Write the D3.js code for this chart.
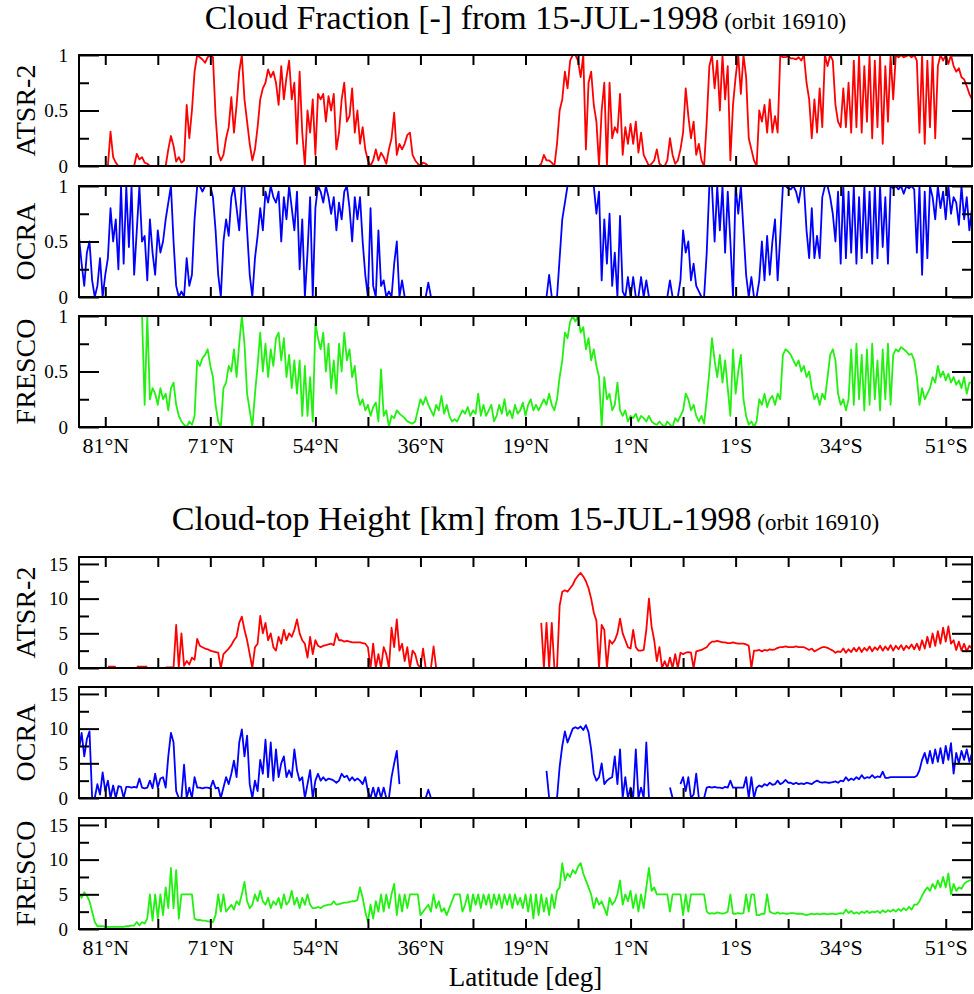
<!DOCTYPE html>
<html>
<head>
<meta charset="utf-8">
<script src="https://cdn.jsdelivr.net/npm/d3@7"></script>
<style>
  body { margin: 0; background: #fff; }
  text { font-family: "Liberation Serif", "Times New Roman", serif; }
</style>
</head>
<body>
<svg id="chart" width="974" height="994"></svg>
<script>
'use strict';

var _ = null; // no retrieval

// along-track sample index 0..340, latitude labels on every other tick
var latTicks = [10, 50, 90, 130, 170, 210, 250, 290, 330];
var latLabels = ['81°N', '71°N', '54°N', '36°N', '19°N', '1°N', '1°S', '34°S', '51°S'];

// cloud fraction, percent
var cfAtsr = [
  0,0,0,0,0,0,0,0,0,0,
  0,0,31,8,3,0,0,0,0,0,
  0,0,11,6,8,3,2,0,0,0,
  0,0,0,0,15,27,18,4,8,3,
  5,55,25,50,85,100,98,96,93,98,
  100,98,45,12,5,10,25,35,62,30,
  55,85,100,60,40,20,5,15,35,60,
  70,75,87,80,85,75,55,90,60,80,
  95,60,75,20,85,30,0,50,30,60,
  10,65,60,65,40,63,50,65,15,30,
  60,75,40,45,70,30,50,20,35,15,
  5,0,5,15,5,12,8,2,15,25,
  48,10,20,15,20,28,30,10,5,2,
  0,3,2,0,0,0,0,0,0,0,
  0,0,0,0,0,0,0,0,0,0,
  0,0,0,0,0,0,0,0,0,0,
  0,0,0,0,0,0,0,0,0,0,
  0,0,0,0,0,0,2,10,5,5,
  3,0,20,50,60,85,70,95,100,100,
  95,80,100,15,75,85,55,40,0,50,
  75,0,75,25,35,30,65,10,35,20,
  38,20,40,12,30,10,5,0,2,5,
  15,2,0,0,5,25,10,2,5,15,
  30,70,45,25,40,10,20,5,0,40,
  90,100,70,95,50,100,60,90,5,55,
  80,100,65,100,80,25,15,5,0,50,
  40,55,30,60,30,45,30,100,98,98,
  99,97,97,96,98,95,100,75,60,25,
  60,30,70,35,100,90,100,95,55,40,
  35,70,35,75,30,95,35,100,30,90,
  40,100,25,95,35,100,20,90,40,100,
  60,100,98,100,98,99,100,98,100,95,
  30,100,20,95,35,100,25,90,100,95,
  100,92,100,90,85,88,80,78,72,65,
  60
];

var cfOcra = [
  54,30,10,40,50,15,0,10,35,0,
  20,35,80,50,70,25,100,30,100,45,
  100,20,60,100,50,55,15,70,40,20,
  60,40,50,70,85,100,50,10,0,5,
  0,35,10,20,70,100,100,95,100,100,
  100,90,60,20,0,50,70,55,90,100,
  80,60,100,100,60,20,0,35,55,80,
  60,95,85,100,90,85,95,50,90,70,
  100,80,60,95,25,70,0,40,90,0,
  80,100,95,85,100,90,75,90,60,85,
  70,95,100,80,50,90,70,90,50,20,
  0,80,10,0,60,10,15,0,5,0,
  30,50,0,15,0,0,0,0,0,0,
  0,0,0,13,0,0,0,0,0,0,
  0,0,0,0,0,0,0,0,0,0,
  0,0,0,0,0,0,0,0,0,0,
  0,0,0,0,0,0,0,0,0,0,
  0,0,0,0,0,0,0,0,0,20,
  0,0,0,35,70,85,100,100,100,100,
  100,100,100,100,100,100,100,75,95,15,
  70,30,75,10,40,0,73,5,0,18,
  0,18,0,0,18,0,15,0,0,0,
  0,0,0,0,0,15,0,0,0,15,
  60,40,50,15,30,10,5,0,0,40,
  100,100,50,100,60,100,40,95,50,0,
  100,75,100,60,20,0,18,0,0,15,
  50,15,55,20,50,70,15,55,100,100,
  98,97,100,95,85,100,100,60,35,80,
  35,55,35,90,100,100,90,75,50,95,
  30,100,35,95,40,100,30,90,35,100,
  40,95,30,100,35,100,45,90,30,100,
  98,100,97,100,93,100,98,100,97,40,
  100,20,95,35,100,90,70,100,80,95,
  70,100,75,90,85,65,100,70,90,60,
  80
];

var cfFresco = [
  _,_,_,_,_,_,_,_,_,_,
  _,_,_,_,_,_,_,_,_,_,
  _,_,_,_,100,20,100,25,35,30,
  20,35,25,30,15,35,40,20,10,5,
  2,0,5,2,10,60,55,62,65,70,
  55,45,20,5,0,35,40,55,50,70,
  45,75,100,75,30,15,0,30,55,85,
  50,75,45,70,55,80,85,60,80,45,
  65,35,60,30,60,10,55,10,45,5,
  93,80,70,85,50,75,35,60,30,75,
  50,85,60,70,45,55,30,20,25,15,
  20,10,18,22,5,52,10,15,0,10,
  8,15,12,10,8,5,4,3,5,15,
  25,20,27,20,15,10,20,15,28,12,
  20,10,5,7,5,10,15,12,18,10,
  15,12,30,10,20,10,15,20,5,10,
  20,12,25,10,15,8,20,12,15,22,
  10,20,25,15,20,15,20,25,20,30,
  20,15,25,45,60,85,80,95,100,95,
  100,85,90,70,80,60,70,55,45,0,
  45,25,30,15,20,40,15,10,15,5,
  10,8,12,5,10,8,5,10,5,3,
  2,5,2,0,5,2,0,8,5,10,
  15,30,25,15,20,10,5,10,3,25,
  50,80,60,45,65,40,60,35,10,70,
  30,50,65,25,10,2,5,0,5,25,
  20,30,18,25,28,20,30,25,65,70,
  68,65,60,55,60,50,55,45,50,35,
  25,30,20,30,25,45,65,70,60,30,
  20,25,15,25,70,20,75,25,65,15,
  70,20,75,25,60,15,70,25,75,20,
  65,70,68,72,70,68,65,66,60,45,
  20,35,25,30,35,45,40,55,45,50,
  42,48,40,45,38,42,35,45,30,40,
  40
];

// cloud-top height, km
var cthAtsr = [
  _,_,_,_,_,_,_,_,_,_,
  _,0.2,0.2,0.2,0.2,_,_,_,_,_,
  _,_,0.2,0.2,0.2,0.2,0.2,_,_,_,
  _,_,_,0.1,0.1,0.1,0.1,6.2,0,5.0,
  0.3,1.0,0.5,1.5,1.2,4.2,3.2,3.0,2.8,2.7,
  2.5,2.4,2.3,2.2,0,2.0,2.4,2.8,3.3,4.0,
  4.5,6.5,7.4,5.5,4.0,2.0,0,3.0,3.5,7.5,
  5.0,6.5,4.0,5.0,3.0,2.5,4.5,3.5,5.5,4.0,
  5.0,4.5,5.5,7.0,5.0,4.0,3.5,1.5,4.5,2.0,
  4.0,3.2,3.0,3.2,3.3,3.4,3.5,3.3,5.0,4.0,
  4.0,3.8,3.9,3.8,3.7,3.7,3.7,3.7,3.6,3.5,
  3.0,0,3.5,0,2.0,0,3.0,2.0,0,5.8,
  3.0,7.0,2.5,3.5,1.0,3.0,0,2.5,2.0,0.5,
  0,2.8,0,_,0,3.1,0,_,_,_,
  _,_,_,_,_,_,_,_,_,_,
  _,_,_,_,_,_,_,_,_,_,
  _,_,_,_,_,_,_,_,_,_,
  _,_,_,_,_,_,6.5,0,6.5,0,
  6.5,0,0,9.0,11.0,11.2,11.0,11.5,12.0,12.8,
  13.3,13.7,13.2,12.5,11.5,10.0,8.0,6.8,0,6.2,
  5.5,0,4.0,3.5,4.0,5.0,7.1,5.0,4.0,3.0,
  2.8,5.5,3.0,2.5,2.5,2.6,5.5,10.0,6.0,4.0,
  1.0,3.0,0,1.0,0,1.5,0,2.0,0,2.2,
  2.0,2.2,2.3,2.2,0,2.4,2.5,2.6,2.8,3.0,
  3.5,3.8,3.8,3.9,3.8,3.7,3.7,3.6,3.6,3.7,
  3.6,3.5,3.5,3.5,3.4,3.2,0,2.5,2.5,2.6,
  2.4,2.6,2.5,2.7,2.6,2.7,2.9,3.0,3.0,3.1,
  3.0,3.0,3.0,3.1,3.0,3.0,3.0,2.8,2.6,2.8,
  2.4,2.6,2.8,3.0,3.0,2.9,2.7,2.5,2.2,2.4,
  2.3,2.8,2.2,2.7,2.3,2.9,2.4,3.0,2.3,2.9,
  2.5,3.1,2.4,3.0,2.6,3.2,2.5,3.1,2.6,3.3,
  2.5,3.2,2.7,3.3,2.6,3.2,2.8,3.4,2.7,3.5,
  2.6,4.0,2.8,4.5,3.0,5.0,3.2,5.3,3.5,5.8,
  3.8,6.0,3.5,4.0,2.6,3.8,2.5,3.5,2.4,3.2,
  2.8
];

var cthOcra = [
  7.0,9.4,6.0,8.5,9.6,0,0,2.0,0.5,3.7,
  1.0,2.5,0,1.8,0,1.7,1.6,0,1.6,1.6,
  1.5,1.6,1.5,2.8,1.5,1.4,1.5,2.5,1.4,3.5,
  1.5,2.8,3.0,1.5,6.0,9.4,8.0,1.0,0,0,
  4.8,0,1.5,0,3.0,1.5,1.5,1.4,1.5,1.5,
  1.4,2.5,1.4,1.5,0,1.5,3.0,2.0,3.5,5.4,
  3.0,8.0,9.9,6.0,9.0,2.0,0,2.5,1.0,5.5,
  3.5,8.4,3.0,8.0,2.5,7.0,3.0,5.0,6.0,3.0,
  4.0,3.0,7.0,4.0,2.5,3.0,0,2.0,4.0,0,
  2.5,3.5,2.5,3.0,2.5,2.8,2.7,2.5,2.2,2.5,
  3.5,3.0,3.2,2.5,3.0,2.5,2.8,2.5,2.0,3.0,
  1.0,0,1.5,0,1.5,0,1.5,0,0,3.0,
  5.0,6.8,2.0,_,_,_,_,_,_,_,
  _,_,0,1.2,0,_,_,_,_,_,
  _,_,_,_,_,_,_,_,_,_,
  _,_,_,_,_,_,_,_,_,_,
  _,_,_,_,_,_,_,_,_,_,
  _,_,_,_,_,_,_,_,3.9,0,
  _,_,0,4.5,7.5,9.6,8.0,9.0,10.0,10.2,
  10.0,10.3,9.8,10.5,9.5,7.0,3.5,2.5,3.0,5.0,
  2.0,2.5,2.8,3.0,6.0,2.0,7.0,0,3.0,0,
  1.5,0,7.0,0,1.5,0,8.0,0,_,_,
  _,_,_,_,_,1.5,0,_,_,2.0,
  3.0,1.0,3.0,0,0.5,3.5,0,0,0,1.5,
  1.6,1.5,1.6,1.5,1.5,1.4,1.6,1.5,2.5,1.5,
  1.5,1.5,1.5,1.5,3.0,0,3.0,0,1.5,1.8,
  1.6,2.0,1.8,2.2,1.9,2.0,2.5,2.0,2.2,2.6,
  2.2,2.2,2.0,2.2,2.0,2.1,2.0,2.2,2.1,2.0,
  2.3,2.5,2.3,2.2,2.3,2.2,2.2,2.3,2.4,2.2,
  2.5,2.4,3.0,2.5,2.8,2.6,3.0,2.7,3.3,2.8,
  3.0,2.9,3.3,2.9,3.1,3.0,3.8,2.9,2.9,3.0,
  3.0,3.0,3.0,3.0,3.0,3.0,3.0,3.0,3.0,3.2,
  4.0,5.5,6.5,5.0,6.8,5.0,7.0,5.2,7.2,5.0,
  7.5,5.5,7.9,3.5,6.5,5.0,6.8,5.5,7.0,5.2,
  6.5
];

var cthFresco = [
  5.0,4.5,5.3,4.8,4.0,2.5,1.0,0.4,0.4,0.4,
  0.3,0.3,0.3,0.3,0.3,0.3,0.3,0.3,0.4,0.4,
  0.5,0.5,1.0,0.5,1.0,0.8,1.5,5.0,1.2,5.0,
  1.5,5.0,2.0,6.0,3.0,8.8,3.0,8.5,1.5,5.0,
  5.0,5.0,5.0,5.0,1.5,1.3,1.3,1.2,1.2,1.1,
  1.1,1.0,2.0,5.0,2.5,5.0,2.5,3.0,3.5,2.8,
  4.0,3.5,5.0,6.8,4.0,3.0,3.5,5.0,4.0,5.5,
  4.0,3.5,4.5,3.0,4.0,3.5,4.5,3.0,5.0,3.5,
  4.0,5.5,3.5,4.5,3.0,4.5,3.5,5.0,3.5,3.0,
  3.0,3.2,3.0,3.3,3.4,3.5,3.5,4.0,3.5,3.6,
  3.7,3.8,3.8,3.9,4.0,4.0,4.2,6.0,4.5,2.5,
  1.0,3.5,1.5,4.0,2.5,5.0,2.5,5.0,3.0,5.0,
  6.5,2.0,5.0,2.5,5.0,3.0,5.0,5.0,5.0,5.0,
  2.0,2.5,3.0,3.5,2.5,5.0,3.0,4.0,2.5,3.0,
  2.0,3.0,4.0,5.0,5.0,5.0,2.5,3.5,5.0,2.5,
  5.0,3.5,5.0,3.0,5.0,3.5,5.0,3.0,5.0,3.5,
  5.0,3.0,5.0,3.5,5.0,3.0,5.0,3.5,4.5,3.0,
  5.0,2.5,5.0,1.5,5.0,2.0,5.0,2.5,4.5,2.0,
  5.0,3.0,5.5,6.0,9.5,7.0,8.0,7.5,8.5,8.0,
  9.0,9.5,8.0,7.0,6.0,5.0,3.0,4.5,3.5,4.0,
  3.0,2.0,4.5,3.5,4.0,5.0,7.0,3.5,5.0,4.0,
  5.5,3.0,5.0,2.5,5.0,3.0,6.0,8.8,5.5,6.0,
  5.0,5.0,5.0,5.0,5.0,2.5,5.0,5.0,5.0,5.0,
  2.0,5.0,2.5,5.0,5.0,5.0,5.0,5.0,5.0,2.5,
  2.2,2.3,2.2,2.4,2.3,2.2,2.3,2.5,5.0,2.2,
  2.2,2.3,2.2,2.3,5.0,2.5,5.0,5.0,2.0,2.0,
  2.2,2.2,5.0,2.5,2.3,2.2,2.4,2.2,2.3,2.2,
  2.2,2.3,2.3,2.2,2.2,2.2,2.1,2.0,2.1,2.2,
  2.1,2.2,2.1,2.2,2.2,2.1,2.2,2.2,2.1,2.2,
  2.3,2.2,2.8,2.3,2.6,2.2,2.4,2.2,2.5,2.3,
  2.6,2.3,2.5,2.4,2.6,2.3,2.7,2.4,2.7,2.5,
  2.8,2.5,2.9,2.6,3.0,2.7,3.2,2.8,3.5,3.5,
  4.0,4.8,5.5,6.0,5.5,6.5,5.8,7.0,6.0,7.5,
  6.0,8.0,5.0,6.5,5.5,6.0,5.8,6.5,6.8,7.0,
  7.0
];

var RED = '#ff0000', BLUE = '#0000ff', GREEN = '#22f010';
var LEFT = 79, RIGHT = 972, PANEL_H = 111;
var CENTER = (LEFT + RIGHT) / 2;

var svg = d3.select('#chart');
svg.append('rect').attr('width', 974).attr('height', 994).attr('fill', '#fff');

var x = d3.scaleLinear().domain([0, 340]).range([LEFT, RIGHT]);
var xTicks = d3.range(10, 331, 20);

var cf = { domain: [0, 1], factor: 0.01, majors: [0, 0.5, 1], minors: [0.25, 0.75] },
    cth = { domain: [0, 16], factor: 1, majors: [0, 5, 10, 15], minors: [2.5, 7.5, 12.5] };

var panels = [
  { top: 55,  kind: cf,  values: cfAtsr,    name: 'ATSR-2', color: RED },
  { top: 186, kind: cf,  values: cfOcra,    name: 'OCRA',   color: BLUE },
  { top: 316, kind: cf,  values: cfFresco,  name: 'FRESCO', color: GREEN, lat: true },
  { top: 557, kind: cth, values: cthAtsr,   name: 'ATSR-2', color: RED },
  { top: 687, kind: cth, values: cthOcra,   name: 'OCRA',   color: BLUE },
  { top: 818, kind: cth, values: cthFresco, name: 'FRESCO', color: GREEN, lat: true }
];

function styleAxis( g, size ){
  g.attr('font-family', '"Liberation Serif", "Times New Roman", serif')
   .attr('font-size', size || 19);
  g.select('.domain').remove();
  g.selectAll('.tick line').attr('stroke', '#000').attr('stroke-width', 2);
  g.selectAll('.tick text').attr('fill', '#000');
}

function drawPanel( p ){
  var k = p.kind,
      bottom = p.top + PANEL_H,
      y = d3.scaleLinear().domain(k.domain).range([bottom, p.top]),
      g = svg.append('g');

  var line = d3.line()
    .defined(function( d ){ return d !== null; })
    .x(function( d, i ){ return x(i); })
    .y(function( d ){ return y(d * k.factor); });

  g.append('path')
    .datum(p.values)
    .attr('d', line)
    .attr('fill', 'none')
    .attr('stroke', p.color)
    .attr('stroke-width', 1.8)
    .attr('stroke-linejoin', 'round');

  // y ticks, inward on both sides; majors longer
  g.append('g').attr('transform', 'translate(' + LEFT + ',0)')
    .call(d3.axisLeft(y).tickValues(k.majors).tickSize(-20).tickPadding(11)
      .tickFormat(function( d ){ return String(d); }))
    .call(styleAxis, 19);
  g.append('g').attr('transform', 'translate(' + LEFT + ',0)')
    .call(d3.axisLeft(y).tickValues(k.minors).tickSize(-10).tickFormat(''))
    .call(styleAxis);
  g.append('g').attr('transform', 'translate(' + RIGHT + ',0)')
    .call(d3.axisRight(y).tickValues(k.majors).tickSize(-20).tickFormat(''))
    .call(styleAxis);
  g.append('g').attr('transform', 'translate(' + RIGHT + ',0)')
    .call(d3.axisRight(y).tickValues(k.minors).tickSize(-10).tickFormat(''))
    .call(styleAxis);

  // x ticks top and bottom
  g.append('g').attr('transform', 'translate(0,' + p.top + ')')
    .call(d3.axisTop(x).tickValues(xTicks).tickSize(-10).tickFormat(''))
    .call(styleAxis);
  g.append('g').attr('transform', 'translate(0,' + bottom + ')')
    .call(d3.axisBottom(x).tickValues(xTicks).tickSize(-10).tickFormat(''))
    .call(styleAxis);

  if ( p.lat ){
    g.append('g').attr('transform', 'translate(0,' + bottom + ')')
      .call(d3.axisBottom(x).tickValues(latTicks).tickSize(0).tickPadding(10)
        .tickFormat(function( d, i ){ return latLabels[i]; }))
      .call(styleAxis, 22);
  }

  g.append('rect')
    .attr('x', LEFT).attr('y', p.top)
    .attr('width', RIGHT - LEFT).attr('height', PANEL_H)
    .attr('fill', 'none').attr('stroke', '#000').attr('stroke-width', 2);

  g.append('text')
    .attr('transform', 'translate(35,' + (p.top + PANEL_H / 2) + ') rotate(-90)')
    .attr('text-anchor', 'middle')
    .attr('font-size', 28)
    .text(p.name);
}

panels.forEach(drawPanel);

function title( yPos, main ){
  var t = svg.append('text')
    .attr('x', CENTER).attr('y', yPos)
    .attr('text-anchor', 'middle');
  t.append('tspan').attr('font-size', 34).text(main);
  t.append('tspan').attr('font-size', 23).text(' (orbit 16910)');
}

title(29, 'Cloud Fraction [-] from 15-JUL-1998');
title(530, 'Cloud-top Height [km] from 15-JUL-1998');

svg.append('text')
  .attr('x', CENTER).attr('y', 986)
  .attr('text-anchor', 'middle')
  .attr('font-size', 27)
  .text('Latitude [deg]');
</script>
</body>
</html>
